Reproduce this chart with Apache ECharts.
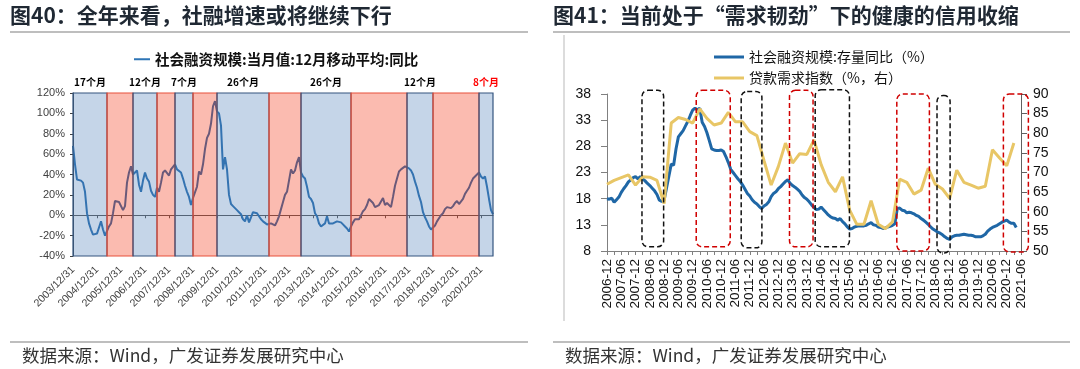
<!DOCTYPE html>
<html><head><meta charset="utf-8">
<script src="https://cdn.jsdelivr.net/npm/echarts@6/dist/echarts.min.js"></script>
<style>html,body{margin:0;padding:0;background:#fff}#c{width:1080px;height:369px}</style>
</head><body><div id="c"></div>
<script>
// ---------- helpers ----------
function monthList(y0, m0, y1, m1, sep) {
  const out = []; let y = y0, m = m0;
  while (y < y1 || (y === y1 && m <= m1)) {
    out.push(y + sep + String(m).padStart(2, '0'));
    m++; if (m > 12) { m = 1; y++; }
  }
  return out;
}

// ---------- Figure 40 data ----------
const leftMonths = monthList(2003, 12, 2021, 6, '/');           // monthly categories
const leftSeriesName = '社会融资规模:当月值:12月移动平均:同比';
const tsfFlowYoY = [
  68,50,35,36,34,32,23,2,-8,-14,-19,
  -19,-18,-12,-6,-14,-20,-20,-11,-8,2,
  14,13,13,12,5,9,32,42,48,40,
  42,44,30,23,34,42,36,33,24,20,
  18,27,23,32,42,44,44,39,45,46,
  50,45,46,42,36,29,23,18,10,17,
  17,28,43,40,50,65,76,80,90,107,
  112,102,100,88,45,57,45,20,11,9,
  7,5,3,1,-4,-6,0,-7,-2,3,
  4,2,-1,-4,-6,-7,-9,-10,-8,-9,
  -10,-6,-1,6,13,20,23,24,45,41,
  44,52,57,42,38,36,28,18,16,12,
  2,-1,-8,-11,-10,-8,-1,-8,-8,-8,
  -8,-6,-7,-7,-9,-11,-13,-16,-11,-7,
  -4,-4,-4,-5,4,6,10,16,14,12,
  8,9,10,11,17,10,12,13,8,18,
  29,36,43,45,46,48,48,46,44,40,
  33,27,19,13,3,-2,-6,-11,-14,-14,
  -10,-6,-3,0,2,6,8,7,7,9,
  12,14,11,12,16,21,24,27,32,36,
  38,40,42,38,36,38,28,16,5,1
];
const bandFrom  = ['2003/12','2005/05','2006/06','2007/06','2008/03','2008/12','2009/12','2012/02','2013/06','2015/07','2017/11','2018/12','2020/11'];
const bandTo    = ['2005/05','2006/06','2007/06','2008/03','2008/12','2009/12','2012/02','2013/06','2015/07','2017/11','2018/12','2020/11','2021/06'];
const bandKind  = ['b','r','b','r','b','r','b','r','b','r','b','r','b'];
const bandLabel = ['17个月','','12个月','','7个月','','26个月','','26个月','','12个月','','8个月'];
const leftYTicks = { min: -40, max: 120, step: 20 };

// ---------- Figure 41 data ----------
const rightMonths = monthList(2006, 12, 2021, 6, '-');
const rightName1 = '社会融资规模:存量同比（%）';
const rightName2 = '贷款需求指数（%，右）';
const tsfStockYoY = [
  18.0,17.9,18.1,17.3,17.8,18.3,19.2,19.9,20.5,21.2,
  21.6,22.0,22.2,21.8,22.2,21.8,21.4,20.9,20.5,20.0,
  19.5,18.8,17.7,17.5,17.7,20.0,22.3,24.6,24.4,27.5,
  29.8,30.4,31.0,31.9,32.8,33.9,34.9,35.3,35.0,35.3,
  32.6,31.8,30.6,29.1,27.5,27.3,27.2,27.2,27.3,27.0,
  26.0,24.9,23.6,23.0,22.4,21.8,21.3,20.6,19.8,19.0,
  18.5,17.8,17.3,17.0,16.5,16.1,16.6,16.9,17.4,18.4,
  19.0,19.3,19.9,20.3,20.8,21.3,21.6,20.9,20.5,20.2,
  19.8,19.4,18.7,18.2,17.9,17.4,16.8,16.3,15.9,16.0,
  16.4,15.9,15.4,14.9,14.5,14.3,14.2,13.9,14.2,13.6,
  13.2,12.6,12.2,12.3,12.6,12.7,12.8,12.8,12.8,12.9,
  13.2,13.4,13.0,12.9,12.6,12.5,12.3,12.4,12.6,12.7,
  12.9,13.2,16.1,16.2,15.8,15.7,15.3,15.4,15.3,15.1,
  14.8,14.6,14.2,13.9,13.5,13.1,12.6,12.2,11.9,11.6,
  11.4,11.1,10.7,10.4,10.2,10.7,10.9,11.0,11.0,11.1,
  11.2,11.1,11.0,11.0,10.9,10.7,10.7,10.7,10.9,11.2,
  11.8,12.2,12.5,12.7,12.9,13.2,13.5,13.7,13.9,13.5,
  13.3,13.3,12.5
];
// quarterly (every 3rd month starting 2006-12)
const loanDemandQ = [
  67.0,68.0,68.7,69.4,66.8,68.9,68.8,68.0,62.1,82.6,
  84.0,83.5,82.6,86.2,83.8,82.1,82.6,85.3,82.9,82.9,
  80.4,79.4,73.0,66.8,71.5,77.5,72.4,74.8,74.6,78.3,
  72.0,67.5,65.1,68.9,60.4,56.8,56.8,62.8,56.8,55.7,
  57.4,68.3,67.5,64.5,65.5,71.1,67.0,65.8,63.4,70.6,
  67.5,66.8,66.0,66.5,75.8,73.7,71.7,77.5
];
// dashed boxes: month offset from 2006-12 (start, end), left-axis top/bottom, red flag
const boxStart = [14.7, 37.5, 56.4, 76.7, 87.5, 121.8, 138.7, 166.6];
const boxEnd   = [23.8, 51.8, 65.1, 86.6, 101.9, 135.5, 144.2, 177.1];
const boxTop   = [38.7, 38.7, 38.5, 38.7, 38.8, 38.0, 37.7, 38.0];
const boxBot   = [8.8, 8.8, 8.6, 8.8, 8.8, 8.0, 7.6, 7.8];
const boxRed   = [0, 1, 0, 1, 0, 1, 0, 1];

// ---------- chart ----------
const CJK = '"Noto Sans CJK SC", "Noto Sans", sans-serif';
const NUM = '"Liberation Sans", Arial, sans-serif';
const chart = echarts.init(document.getElementById('c'), null, { renderer: 'canvas' });

const bandData = bandFrom.map((f, i) => {
  const blue = bandKind[i] === 'b';
  return [{
    xAxis: f, name: bandLabel[i],
    itemStyle: { color: blue ? 'rgba(75,125,185,0.32)' : 'rgba(242,45,8,0.32)',
                 borderColor: blue ? '#34557f' : '#e8503a', borderWidth: 1.2 },
    label: { show: !!bandLabel[i], color: i === bandFrom.length - 1 ? '#ff0000' : '#000' }
  }, { xAxis: bandTo[i] }];
});

const option = {
  animation: false,
  backgroundColor: '#fff',
  grid: [
    { left: 73, top: 93, width: 420, height: 163 },
    { left: 607, top: 94, width: 414, height: 157 }
  ],
  legend: [
    { data: [leftSeriesName], left: 129, top: 47, itemWidth: 16, itemHeight: 2, icon: 'rect',
      textStyle: { fontFamily: CJK, fontWeight: 'bold', fontSize: 14.5, color: '#111' } },
    { data: [rightName1, rightName2], orient: 'vertical', left: 709, top: 45, itemWidth: 30, itemHeight: 3,
      icon: 'rect', itemGap: 7, textStyle: { fontFamily: CJK, fontSize: 14, color: '#111' } }
  ],
  xAxis: [
    { gridIndex: 0, type: 'category', data: leftMonths, boundaryGap: false,
      axisLine: { show: false, onZero: false }, axisTick: { show: false },
      axisLabel: { interval: (i) => i % 12 === 0, rotate: 45, fontSize: 10.5, fontFamily: NUM,
                   color: '#404040', margin: 12, formatter: (v) => v + '/31' },
      splitLine: { show: false } },
    { gridIndex: 0, type: 'category', data: leftMonths, boundaryGap: false, position: 'bottom',
      axisLine: { onZero: true, lineStyle: { color: '#595959', width: 1 } },
      axisTick: { interval: (i) => i % 12 === 0, length: 3, lineStyle: { color: '#595959' } },
      axisLabel: { show: false }, splitLine: { show: false } },
    { gridIndex: 1, type: 'category', data: rightMonths, boundaryGap: false,
      axisLine: { onZero: false, lineStyle: { color: '#808080' } },
      axisTick: { interval: (i) => i % 3 === 0, length: 4, lineStyle: { color: '#808080' } },
      axisLabel: { interval: (i) => i % 6 === 0, rotate: 90, fontSize: 13.5, fontFamily: NUM,
                   color: '#111', margin: 8 },
      splitLine: { show: false } },
    { gridIndex: 1, type: 'value', min: 0, max: rightMonths.length - 1, show: false }
  ],
  yAxis: [
    { gridIndex: 0, type: 'value', min: leftYTicks.min, max: leftYTicks.max, interval: leftYTicks.step,
      axisLine: { show: true, lineStyle: { color: '#404040' } },
      axisTick: { show: true, length: 3, lineStyle: { color: '#404040' } },
      axisLabel: { formatter: '{value}%', fontSize: 11, fontFamily: NUM, color: '#404040', margin: 8 },
      splitLine: { show: false } },
    { gridIndex: 1, type: 'value', min: 8, max: 38, interval: 5, position: 'left',
      axisLine: { show: true, lineStyle: { color: '#808080' } },
      axisTick: { show: true, length: 6, lineStyle: { color: '#808080' } },
      axisLabel: { fontSize: 14, fontFamily: NUM, color: '#111', margin: 16 },
      splitLine: { show: false } },
    { gridIndex: 1, type: 'value', min: 50, max: 90, interval: 5, position: 'right',
      axisLine: { show: true, lineStyle: { color: '#606060' } },
      axisTick: { show: true, length: 6, lineStyle: { color: '#606060' } },
      axisLabel: { fontSize: 14, fontFamily: NUM, color: '#111', margin: 12 },
      splitLine: { show: false } }
  ],
  series: [
    { name: leftSeriesName, type: 'line', xAxisIndex: 0, yAxisIndex: 0, data: tsfFlowYoY,
      showSymbol: false, lineStyle: { color: '#2a6fae', width: 2 }, itemStyle: { color: '#2e75b6' }, z: 1 },
    { name: 'bands', type: 'line', xAxisIndex: 0, yAxisIndex: 0, data: [], z: 4,
      markArea: { z: 4, silent: true,
        label: { position: 'top', distance: 5, fontSize: 10, fontWeight: 'bold', fontFamily: CJK },
        data: bandData } },
    { name: rightName1, type: 'line', xAxisIndex: 2, yAxisIndex: 1, data: tsfStockYoY,
      showSymbol: false, lineStyle: { color: '#1f67a6', width: 3 }, itemStyle: { color: '#1f67a6' }, z: 3 },
    { name: rightName2, type: 'line', xAxisIndex: 2, yAxisIndex: 2,
      data: loanDemandQ.map((v, q) => [q * 3, v]),
      showSymbol: false, lineStyle: { color: '#e8c666', width: 3 }, itemStyle: { color: '#e8c666' }, z: 4 },
    { name: 'boxes', type: 'custom', xAxisIndex: 3, yAxisIndex: 1, clip: false, z: 5,
      encode: { x: [0, 1], y: [2, 3] },
      data: boxStart.map((s, i) => [s, boxEnd[i], boxTop[i], boxBot[i], boxRed[i]]),
      renderItem: (params, api) => {
        const p1 = api.coord([api.value(0), api.value(2)]);
        const p2 = api.coord([api.value(1), api.value(3)]);
        return { type: 'rect',
          shape: { x: p1[0], y: p1[1], width: p2[0] - p1[0], height: p2[1] - p1[1], r: 6 },
          style: { fill: 'none', stroke: api.value(4) ? '#d00000' : '#111', lineWidth: 1.5, lineDash: [5, 3] } };
      } }
  ],
  graphic: [
    { type: 'text', left: 10, top: 5, style: { text: '图40：全年来看，社融增速或将继续下行', font: 'bold 21px ' + CJK, fill: '#1f2833' } },
    { type: 'text', left: 553, top: 5, style: { text: '图41：当前处于“需求韧劲”下的健康的信用收缩', font: 'bold 21px ' + CJK, fill: '#1f2833' } },
    { type: 'line', shape: { x1: 10, y1: 32, x2: 528, y2: 32 }, style: { stroke: '#7f7f7f', lineWidth: 1.2 } },
    { type: 'line', shape: { x1: 553, y1: 32, x2: 1070, y2: 32 }, style: { stroke: '#7f7f7f', lineWidth: 1.2 } },
    { type: 'line', shape: { x1: 10, y1: 342, x2: 528, y2: 342 }, style: { stroke: '#7f7f7f', lineWidth: 1.2 } },
    { type: 'line', shape: { x1: 553, y1: 342, x2: 1070, y2: 342 }, style: { stroke: '#7f7f7f', lineWidth: 1.2 } },
    { type: 'line', shape: { x1: 564, y1: 35, x2: 564, y2: 321 }, style: { stroke: '#dcdcdc', lineWidth: 2 } },
    { type: 'text', left: 22, top: 347, style: { text: '数据来源：Wind，广发证券发展研究中心', font: '17.5px ' + CJK, fill: '#333' } },
    { type: 'text', left: 565, top: 347, style: { text: '数据来源：Wind，广发证券发展研究中心', font: '17.5px ' + CJK, fill: '#333' } }
  ]
};
chart.setOption(option);
</script>
</body></html>
